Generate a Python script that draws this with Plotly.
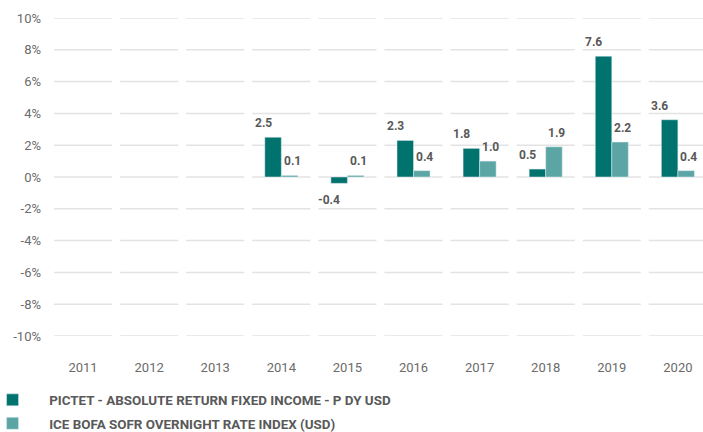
import plotly.graph_objects as go

years = ["2011", "2012", "2013", "2014", "2015", "2016", "2017", "2018", "2019", "2020"]
fund = [None, None, None, 2.5, -0.4, 2.3, 1.8, 0.5, 7.6, 3.6]
index = [None, None, None, 0.1, 0.1, 0.4, 1.0, 1.9, 2.2, 0.4]
fund_name = "PICTET - ABSOLUTE RETURN FIXED INCOME - P DY USD"
index_name = "ICE BOFA SOFR OVERNIGHT RATE INDEX (USD)"
y_ticks = [-10, -8, -6, -4, -2, 0, 2, 4, 6, 8, 10]

DARK = "#00736f"
LIGHT = "#5ba6a5"
GRID = "#e3e3e3"
TXT = "#595959"
PAD = "\u00a0" * 5

fig = go.Figure()
fig.add_trace(go.Bar(x=years, y=fund, name=PAD + fund_name, marker_color=DARK,
                     legendgroup="a"))
fig.add_trace(go.Bar(x=years, y=index, name=PAD + index_name, marker_color=LIGHT,
                     legendgroup="b"))

# value labels
for series, shift in ((fund, -18), (index, 11)):
    for i, v in enumerate(series):
        if v is None:
            continue
        fig.add_annotation(x=i, y=v, xref="x", yref="y", text=f"{v:.1f}", showarrow=False,
                           xshift=shift, yshift=(14 if v >= 0 else -17),
                           font=dict(family="Roboto, Arial", size=12, color=TXT, weight="bold"))

# segmented gridlines
for t in y_ticks:
    for i in range(len(years)):
        fig.add_shape(type="line", xref="x", yref="y", x0=i - 0.44, x1=i + 0.44, y0=t, y1=t,
                      line=dict(color=GRID, width=1.5), layer="below")

fig.update_layout(
    width=703, height=432,
    margin=dict(l=50, r=0, t=18, b=96, autoexpand=False),
    plot_bgcolor="white", paper_bgcolor="white",
    barmode="group", bargap=0.5, bargroupgap=0.0,
    showlegend=True,
    legend=dict(orientation="v", x=-0.088, xanchor="left", y=-0.153, yanchor="top",
                font=dict(family="Roboto, Arial", size=13.4, color=TXT, weight="bold"),
                tracegroupgap=3, itemclick=False),
    xaxis=dict(type="category", range=[-0.5, 9.38], showgrid=False, zeroline=False,
               showline=False, ticks="", ticklabelstandoff=22, automargin=False,
               tickfont=dict(family="Roboto, Arial", size=13, color="#6b6b6b")),
    yaxis=dict(range=[-10, 10], tickvals=y_ticks, ticktext=[f"{t}%" for t in y_ticks],
               showgrid=False, zeroline=False, showline=False, ticks="", ticklabelstandoff=8,
               automargin=False,
               tickfont=dict(family="Roboto, Arial", size=13, color="#6b6b6b")),
)

fig.write_html("out.html")
